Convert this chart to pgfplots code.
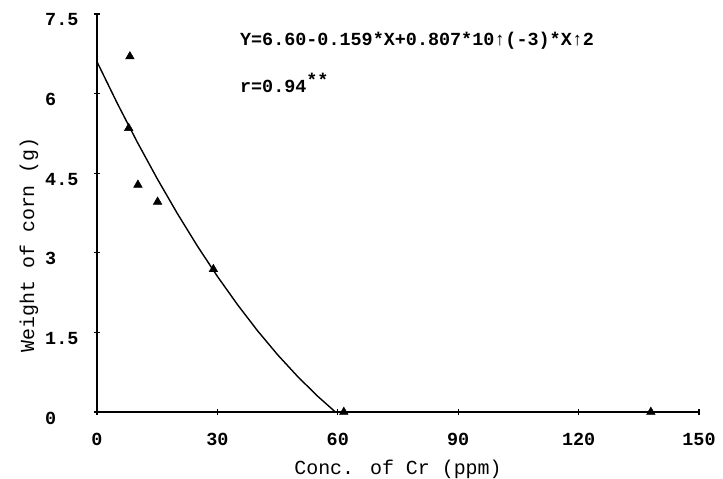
\documentclass[border=0pt]{standalone}
\usepackage{pgfplots}
\pgfplotsset{compat=1.18}
\usepackage{fontspec}
\setmainfont{Liberation Mono}
\newcommand\tickfont{\fontsize{18.5}{20}\selectfont\bfseries}
\newcommand\labfont{\fontsize{20}{23}\selectfont}
\begin{document}
\begin{tikzpicture}
\begin{axis}[
  scale only axis, width=602bp, height=398bp,
  xmin=0, xmax=150, ymin=0, ymax=7.5,
  axis lines=left, axis line style={-, line width=1.8bp},
  xtick={0,30,60,90,120,150}, xticklabels={0,30,60,90,120,150},
  ytick={0,1.5,3,4.5,6,7.5}, yticklabels={0,1.5,3,4.5,6,7.5},
  tick align=center, major tick length=6bp, tick style={line width=1.2bp,black},
  xticklabel style={font=\tickfont, anchor=north, inner sep=0pt, yshift=-18bp},
  yticklabel style={font=\tickfont, anchor=west, inner sep=0pt, xshift=-49bp, yshift=-6bp},
  xlabel={Conc. of Cr (ppm)}, ylabel={Weight of corn (g)},
  every axis x label/.style={at={(axis description cs:0.5,-0.143)}, anchor=center, font=\labfont},
  every axis y label/.style={at={(axis description cs:-0.113,0.42)}, anchor=center, rotate=90, font=\labfont},
  clip=false,
]
% fitted curve Y = 6.60 - 0.159 X + 0.807e-3 X^2 (values tabulated)
\addplot[black, line width=1.4bp, mark=none] coordinates {
  (0,6.600) (5,5.825) (10,5.091) (15,4.397) (20,3.743) (25,3.129)
  (30,2.556) (35,2.024) (40,1.531) (45,1.079) (50,0.668) (55,0.296) (59.4,0.0)
};
% observations
\addplot[only marks, mark=triangle*, mark size=5bp, black] coordinates {
  (8.2,6.70) (7.9,5.35) (10.2,4.28) (15.1,3.96) (29.0,2.69) (61.5,0) (138,0)
};
\node[anchor=west, font=\tickfont, inner sep=0pt] at (axis cs:35.6,6.99) {Y=6.60-0.159*X+0.807*10↑(-3)*X↑2};
\node[anchor=west, font=\tickfont, inner sep=0pt] at (axis cs:35.6,6.20) {r=0.94\raisebox{0.6ex}{**}};
\end{axis}
\pgfresetboundingbox
\path (current axis.south west) ++(-97bp,-67bp) rectangle ++(723bp,479bp);
\end{tikzpicture}
\end{document}
